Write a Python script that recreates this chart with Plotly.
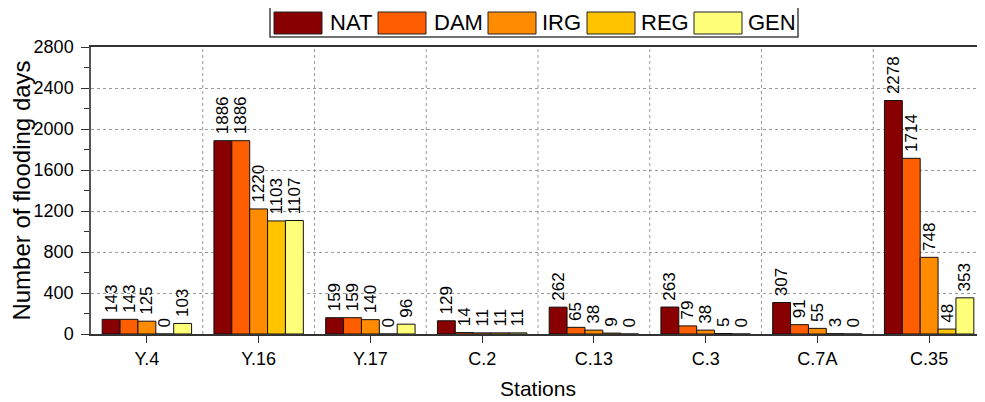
import plotly.graph_objects as go

# ---------------- data ----------------
stations = ["Y.4", "Y.16", "Y.17", "C.2", "C.13", "C.3", "C.7A", "C.35"]
series_names = ["NAT", "DAM", "IRG", "REG", "GEN"]
nat = [143, 1886, 159, 129, 262, 263, 307, 2278]
dam = [143, 1886, 159, 14, 65, 79, 91, 1714]
irg = [125, 1220, 140, 11, 38, 38, 55, 748]
reg = [0, 1103, 0, 11, 9, 5, 3, 48]
gen = [103, 1107, 96, 11, 0, 0, 0, 353]
y_ticks = [0, 400, 800, 1200, 1600, 2000, 2400, 2800]

# ---------------- style ----------------
FONT = "Arial, Liberation Sans, sans-serif"
colors = ["#880000", "#FF5E00", "#FF8C00", "#FFC300", "#FFFF7A"]
OFF = 8  # default page body margin
W, H = 985 - OFF, 402 - OFF
ML, MR, MT, MB = 91 - OFF, 0, 47 - OFF, 68
PW, PH = W - ML - MR, H - MT - MB


def px_x(p):
    return (p - OFF - ML) / PW


def px_y(p):
    return (H - MB - (p - OFF)) / PH


fig = go.Figure()
for name, vals, col in zip(series_names, [nat, dam, irg, reg, gen], colors):
    fig.add_trace(go.Bar(
        x=stations, y=vals, name=name,
        marker=dict(color=col, line=dict(color="#111111", width=1)),
        text=vals, texttemplate="\u2009%{y}", textposition="outside",
        textangle=-90, constraintext="none", cliponaxis=False,
        textfont=dict(size=17, color="black", family=FONT),
        showlegend=False,
    ))

shapes = []
# vertical dashed grid lines between stations
for i in range(len(stations) - 1):
    shapes.append(dict(type="line", xref="x", yref="paper", x0=i + 0.5, x1=i + 0.5,
                       y0=0, y1=1, layer="below",
                       line=dict(color="#9a9a9a", width=1, dash="3px,3px")))

# custom legend
sw_left = [274, 378, 488, 587, 694]
sw_w = 48
txt_left = [328, 432, 540, 639, 746]
shapes.append(dict(type="rect", xref="paper", yref="paper",
                   x0=px_x(270), x1=px_x(798), y0=px_y(37), y1=px_y(7),
                   fillcolor="white", line=dict(color="#444444", width=1.5)))
annotations = []
for name, col, sl, tl in zip(series_names, colors, sw_left, txt_left):
    shapes.append(dict(type="rect", xref="paper", yref="paper",
                       x0=px_x(sl), x1=px_x(sl + sw_w), y0=px_y(34), y1=px_y(12),
                       fillcolor=col, line=dict(color="#222222", width=1)))
    annotations.append(dict(xref="paper", yref="paper", x=px_x(tl), y=px_y(22.5),
                            text=name, showarrow=False, xanchor="left", yanchor="middle",
                            font=dict(size=22, color="black", family=FONT)))

fig.update_layout(
    width=W, height=H,
    margin=dict(l=ML, r=MR, t=MT, b=MB, pad=0, autoexpand=False),
    paper_bgcolor="white", plot_bgcolor="white",
    barmode="group", bargap=0.2, bargroupgap=0,
    font=dict(family=FONT, color="black"),
    shapes=shapes, annotations=annotations,
    showlegend=False,
    xaxis=dict(
        range=[-0.5, len(stations) - 0.5], automargin=False,
        showgrid=False, showline=True, linecolor="#333333", linewidth=2,
        mirror=True, ticks="outside", ticklen=7, tickwidth=1, tickcolor="#333333",
        tickfont=dict(size=18, family=FONT, color="black"),
        title=dict(text="Stations", font=dict(size=21, family=FONT, color="black"), standoff=14),
        zeroline=False,
    ),
    yaxis=dict(
        range=[0, 2800], tickmode="array", tickvals=y_ticks, automargin=False,
        showgrid=True, gridcolor="#9a9a9a", gridwidth=1, griddash="3px,3px",
        showline=True, linecolor="#555555", linewidth=1.5,
        ticks="outside", ticklen=8, tickwidth=1, tickcolor="#333333",
        minor=dict(dtick=200, ticks="outside", ticklen=5, tickcolor="#333333", showgrid=False),
        tickfont=dict(size=18, family=FONT, color="black"),
        ticklabelstandoff=4,
        title=dict(text="Number of flooding days", font=dict(size=24, family=FONT, color="black"), standoff=7),
        zeroline=False,
    ),
)

fig.write_html("out.html")
